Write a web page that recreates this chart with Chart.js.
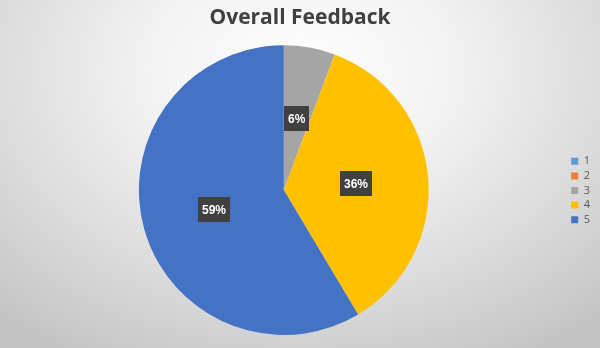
<!DOCTYPE html>
<html>
<head>
<meta charset="utf-8">
<script src="https://cdn.jsdelivr.net/npm/chart.js@4/dist/chart.umd.min.js"></script>
<style>
    html, body { margin: 0; padding: 0; }
    #wrap {
        width: 600px; height: 348px; position: relative;
        background: radial-gradient(ellipse 75% 95% at 50% 20%, #ffffff 0%, #f2f2f2 35%, #dadada 70%, #c4c4c4 100%);
    }
</style>
</head>
<body>
<div id="wrap"><canvas id="feedbackChart" width="600" height="348"></canvas></div>
<script>
var categories = ['1', '2', '3', '4', '5'];
var responses = [0, 0, 4, 25, 41];
var sliceColors = ['#5B9BD5', '#ED7D31', '#A5A5A5', '#FFC000', '#4472C4'];

// dark boxes with percentages, like the Excel data labels
var percentLabels = {
    id: 'percentLabels',
    afterDatasetsDraw: function (chart) {
        var ctx = chart.ctx;
        var data = chart.data.datasets[0].data;
        var total = data.reduce(function (a, b) { return a + b; }, 0);
        var meta = chart.getDatasetMeta(0);
        ctx.save();
        ctx.font = 'bold 12px "Liberation Sans", Arial, sans-serif';
        ctx.textAlign = 'center';
        ctx.textBaseline = 'middle';
        meta.data.forEach(function (arc, i) {
            if (!data[i]) return;
            var pos = arc.tooltipPosition();
            var txt = Math.round(data[i] / total * 100) + '%';
            var w = ctx.measureText(txt).width + 8;
            var h = 25;
            ctx.fillStyle = '#404040';
            ctx.fillRect(Math.round(pos.x - w / 2), Math.round(pos.y - h / 2), Math.round(w), h);
            ctx.fillStyle = '#ffffff';
            ctx.fillText(txt, pos.x, pos.y + 1);
        });
        ctx.restore();
    }
};

var canvas = document.getElementById('feedbackChart');
var chart = new Chart(canvas.getContext('2d'), {
    type: 'pie',
    data: {
        labels: categories,
        datasets: [{
            data: responses,
            backgroundColor: sliceColors,
            borderWidth: 0
        }]
    },
    options: {
        responsive: false,
        animation: false,
        layout: { padding: { top: 0, bottom: 13, left: 0, right: 0 } },
        plugins: {
            title: {
                display: true,
                text: 'Overall Feedback',
                color: '#404040',
                font: { family: '"Open Sans", sans-serif', size: 21, weight: 'bold' },
                padding: { top: 5, bottom: 15 }
            },
            legend: {
                position: 'right',
                title: {
                    display: true,
                    text: ' ',
                    font: { size: 10 },
                    padding: { top: 17, bottom: 17 }
                },
                labels: {
                    boxWidth: 7,
                    boxHeight: 7,
                    padding: 3.6,
                    color: '#595959',
                    font: { family: '"Open Sans", sans-serif', size: 11 }
                }
            },
            tooltip: { enabled: false }
        }
    },
    plugins: [percentLabels]
});
</script>
</body>
</html>
